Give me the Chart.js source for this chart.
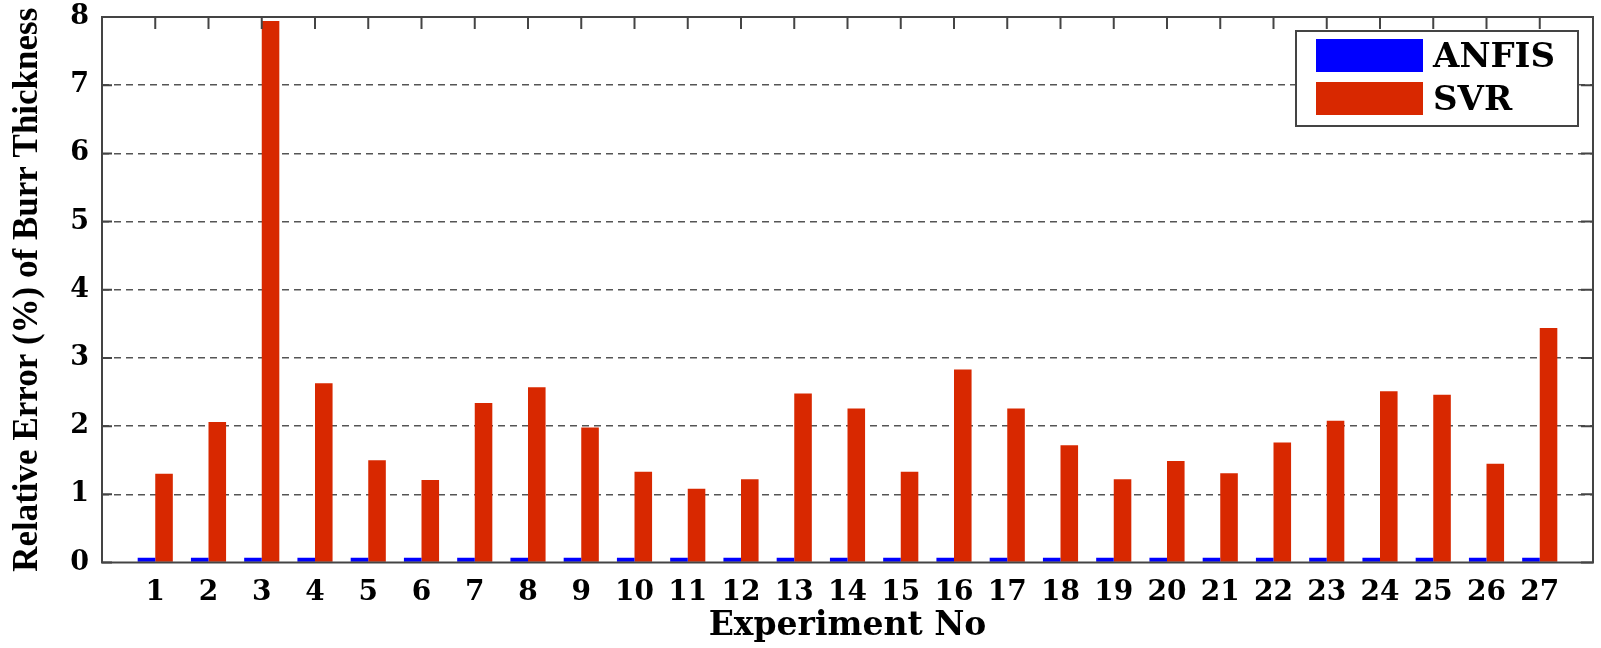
<!DOCTYPE html>
<html>
<head>
<meta charset="utf-8">
<script src="https://cdn.jsdelivr.net/npm/chart.js@4.4.1/dist/chart.umd.min.js"></script>
<style>
  html, body { margin: 0; padding: 0; background: #fff; }
  #wrap { width: 1601px; height: 648px; position: relative; }
</style>
</head>
<body>
<div id="wrap"><canvas id="chart" width="1601" height="648"></canvas></div>
<script>
// experiment numbers
var experiments = [1, 2, 3, 4, 5, 6, 7, 8, 9, 10, 11, 12, 13, 14, 15, 16, 17, 18, 19, 20, 21, 22, 23, 24, 25, 26, 27];

// relative error (%) of burr thickness
var anfisError = [0.07, 0.07, 0.07, 0.07, 0.07, 0.07, 0.07, 0.07, 0.07, 0.07, 0.07, 0.07, 0.07, 0.07,
                  0.07, 0.07, 0.07, 0.07, 0.07, 0.07, 0.07, 0.07, 0.07, 0.07, 0.07, 0.07, 0.07];
var svrError = [1.30, 2.06, 7.94, 2.63, 1.50, 1.21, 2.34, 2.57, 1.98, 1.33, 1.08, 1.22, 2.48, 2.26,
                1.33, 2.83, 2.26, 1.72, 1.22, 1.49, 1.31, 1.76, 2.08, 2.51, 2.46, 1.45, 3.44];

var yTicks = [0, 1, 2, 3, 4, 5, 6, 7, 8];

var seriesNames = ["ANFIS", "SVR"];
var seriesColors = ["#0000ff", "#d82800"];

function toPoints(vals) {
    return vals.map(function (v, i) { return { x: experiments[i], y: v }; });
}

var frameColor = "#444";

// box round the plot, inward ticks, legend box
var framePlugin = {
    id: "frame",
    afterDatasetsDraw: function (chart) {
        var ctx = chart.ctx;
        var a = chart.chartArea;
        var xs = chart.scales.x, ys = chart.scales.y;
        ctx.save();
        ctx.strokeStyle = frameColor;
        ctx.lineWidth = 2;
        ctx.strokeRect(a.left, a.top, a.right - a.left, a.bottom - a.top);

        ctx.beginPath();
        experiments.forEach(function (e) {
            var px = xs.getPixelForValue(e);
            ctx.moveTo(px, a.top);
            ctx.lineTo(px, a.top + 12);
        });
        yTicks.forEach(function (t) {
            var py = ys.getPixelForValue(t);
            ctx.moveTo(a.right, py);
            ctx.lineTo(a.right - 12, py);
            ctx.moveTo(a.left, py);
            ctx.lineTo(a.left + 10, py);
        });
        ctx.stroke();

        // legend
        var bw = 282, bh = 95;
        var bx = a.right - 15 - bw, by = a.top + 14;
        ctx.fillStyle = "#fff";
        ctx.fillRect(bx, by, bw, bh);
        ctx.strokeStyle = frameColor;
        ctx.lineWidth = 2;
        ctx.strokeRect(bx, by, bw, bh);
        ctx.font = "bold 34px 'DejaVu Serif'";
        ctx.textBaseline = "middle";
        ctx.textAlign = "left";
        chart.data.datasets.forEach(function (ds, i) {
            var ry = by + 8 + i * 43;
            ctx.fillStyle = ds.backgroundColor;
            ctx.fillRect(bx + 20, ry, 107, 33);
            ctx.fillStyle = "#000";
            ctx.fillText(ds.label, bx + 137, ry + 19);
        });
        ctx.restore();
    }
};

new Chart(document.getElementById("chart"), {
    type: "bar",
    data: {
        datasets: [
            { label: seriesNames[0], data: toPoints(anfisError), backgroundColor: seriesColors[0],
              categoryPercentage: 0.66, barPercentage: 1.0 },
            { label: seriesNames[1], data: toPoints(svrError), backgroundColor: seriesColors[1],
              categoryPercentage: 0.66, barPercentage: 1.0 }
        ]
    },
    options: {
        responsive: false,
        animation: false,
        layout: { padding: { top: 17, right: 8, bottom: 0, left: 0 } },
        plugins: {
            legend: { display: false },
            tooltip: { enabled: false }
        },
        scales: {
            x: {
                type: "linear",
                min: 0,
                max: 28,
                offset: false,
                afterBuildTicks: function (scale) {
                    scale.ticks = experiments.map(function (e) { return { value: e }; });
                },
                afterFit: function (scale) { scale.height = 85.5; },
                grid: { display: false, drawTicks: false },
                border: { display: false },
                ticks: {
                    autoSkip: false,
                    maxRotation: 0,
                    padding: 13,
                    color: "#000",
                    font: { family: "'DejaVu Serif'", size: 28, weight: "bold" },
                    callback: function (v) { return String(v); }
                },
                title: {
                    display: true,
                    text: "Experiment No",
                    color: "#000",
                    padding: { top: 0, bottom: 2 },
                    font: { family: "'DejaVu Serif'", size: 33, weight: "bold" }
                }
            },
            y: {
                min: 0,
                max: 8,
                afterBuildTicks: function (scale) {
                    scale.ticks = yTicks.map(function (t) { return { value: t }; });
                },
                afterFit: function (scale) { scale.width = 102; },
                grid: {
                    drawTicks: true,
                    tickLength: 13,
                    tickColor: "rgba(0,0,0,0)",
                    lineWidth: 1.6,
                    color: function (c) {
                        return (c.tick && (c.tick.value === 0 || c.tick.value === 8)) ? "rgba(0,0,0,0)" : "#555";
                    }
                },
                border: { display: false, dash: [7, 5] },
                ticks: {
                    padding: 0,
                    color: "#000",
                    font: { family: "'DejaVu Serif'", size: 27, weight: "bold" }
                },
                title: {
                    display: true,
                    text: "Relative Error (%) of Burr Thickness",
                    color: "#000",
                    padding: { top: 7, bottom: 0 },
                    font: { family: "'Liberation Serif'", size: 35, weight: "bold" }
                }
            }
        }
    },
    plugins: [framePlugin]
});
</script>
</body>
</html>
